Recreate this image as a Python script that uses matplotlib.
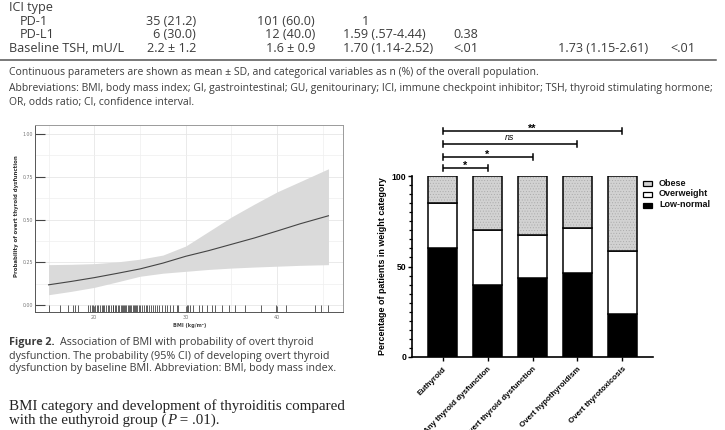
import matplotlib
matplotlib.use("Agg")
import matplotlib.pyplot as plt
import numpy as np
from matplotlib.patches import Rectangle
from matplotlib.lines import Line2D

W, H = 725, 430
fig = plt.figure(figsize=(7.25, 4.30), dpi=100)
fig.patch.set_facecolor("white")
plt.rcParams["hatch.linewidth"] = 0.35

# ---------------- data ----------------
table_labels = ["ICI type", "PD-1", "PD-L1", "Baseline TSH, mU/L"]
table_col1 = ["", "35 (21.2)", "6 (30.0)", "2.2 \u00b1 1.2"]
table_col2 = ["", "101 (60.0)", "12 (40.0)", "1.6 \u00b1 0.9"]
table_col3 = ["", "1", "1.59 (.57-4.44)", "1.70 (1.14-2.52)"]
table_col4 = ["", "", "0.38", "<.01"]
table_col5 = ["", "", "", "1.73 (1.15-2.61)"]
table_col6 = ["", "", "", "<.01"]

note_lines = [
    "Continuous parameters are shown as mean \u00b1 SD, and categorical variables as n (%) of the overall population.",
    "Abbreviations: BMI, body mass index; GI, gastrointestinal; GU, genitourinary; ICI, immune checkpoint inhibitor; TSH, thyroid stimulating hormone;",
    "OR, odds ratio; CI, confidence interval.",
]

# Figure 2: probability curve vs BMI
curve_bmi = [15, 17.5, 20, 22.5, 25, 27.5, 30, 32.5, 35, 37.5, 40, 42.5, 45.6]
curve_prob = [0.118, 0.138, 0.160, 0.185, 0.211, 0.245, 0.285, 0.318, 0.355, 0.392, 0.433, 0.475, 0.522]
ci_upper = [0.236, 0.238, 0.242, 0.252, 0.268, 0.292, 0.345, 0.430, 0.515, 0.590, 0.662, 0.722, 0.797]
ci_lower = [0.060, 0.080, 0.103, 0.135, 0.168, 0.186, 0.197, 0.208, 0.216, 0.222, 0.227, 0.232, 0.236]
rug_bmi = [15.1, 16.3, 17.1, 17.7, 17.9, 18.2, 19.3, 19.5, 19.7, 19.9, 20.1, 20.3, 20.4,
           20.6, 20.8, 21.0, 21.1, 21.3, 21.5, 21.6, 21.8, 22.0, 22.1, 22.3, 22.4, 22.6,
           22.7, 22.9, 23.0, 23.1, 23.3, 23.4, 23.5, 23.7, 23.8, 23.9, 24.0, 24.2, 24.3,
           24.4, 24.6, 24.7, 24.9, 25.0, 25.2, 25.4, 25.6, 25.8, 26.0, 26.2, 26.4, 26.6,
           26.9, 27.1, 27.4, 27.7, 28.0, 28.3, 28.6, 29.0, 29.2, 30.1, 30.3, 30.5, 30.8,
           31.4, 31.8, 32.3, 32.9, 33.2, 34.0, 34.7, 35.4, 36.5, 38.2, 39.9, 41.0, 44.1,
           44.8, 45.6]
bmi_ticks = [20, 30, 40]
prob_ticks = [0.00, 0.25, 0.50, 0.75, 1.00]
prob_tick_labels = ["0.00", "0.25", "0.50", "0.75", "1.00"]

caption_bold = "Figure 2."
caption_lines = [
    "Association of BMI with probability of overt thyroid",
    "dysfunction. The probability (95% CI) of developing overt thyroid",
    "dysfunction by baseline BMI. Abbreviation: BMI, body mass index.",
]

# weight-category stacked bars
groups = ["Euthyroid", "Any thyroid dysfunction", "Overt thyroid dysfunction",
          "Overt hypothyroidism", "Overt thyrotoxicosis"]
low_normal = [60.0, 40.0, 43.5, 46.5, 23.5]
overweight = [25.0, 30.0, 24.0, 24.5, 35.0]
obese = [15.0, 30.0, 32.5, 29.0, 41.5]
legend_labels = ["Obese", "Overweight", "Low-normal"]
sig_targets = [1, 2, 3, 4]
sig_heights = [104.5, 110.5, 117.5, 125.0]
sig_labels = ["*", "*", "ns", "**"]

# ---------------- helpers ----------------
renderer = fig.canvas.get_renderer()


def rect(l, t, r, b):
    return [l / W, 1 - b / H, (r - l) / W, (b - t) / H]


def put(x, y, s, width=None, size=8.0, **kw):
    kw.setdefault("va", "center")
    t = fig.text(x / W, 1 - y / H, s, fontsize=size, **kw)
    if width is not None:
        bb = t.get_window_extent(renderer)
        t.set_fontsize(size * width / bb.width)
    return t


def right_px(t):
    return t.get_window_extent(renderer).x1


SANS = "Open Sans"
TXT = "#3c3c3c"

# notes
t = put(9, 88, note_lines[1], width=706, family=SANS, color=TXT)
nsize = t.get_fontsize()
put(9, 73, note_lines[0], size=nsize, family=SANS, color=TXT)
put(9, 102.5, note_lines[2], size=nsize, family=SANS, color=TXT)

# ---------------- table ----------------
tsize = nsize * 1.22
row_y = [8, 21.5, 35, 48.5]
for i, lab in enumerate(table_labels):
    put(9 if i in (0, 3) else 20, row_y[i], lab, size=tsize, family=SANS, color=TXT)
for i in range(4):
    if table_col1[i]:
        put(196, row_y[i], table_col1[i], size=tsize, family=SANS, color=TXT, ha="right")
    if table_col2[i]:
        put(315, row_y[i], table_col2[i], size=tsize, family=SANS, color=TXT, ha="right")
    if table_col3[i]:
        if table_col3[i] == "1":
            put(365, row_y[i], table_col3[i], size=tsize, family=SANS, color=TXT, ha="center")
        else:
            put(343, row_y[i], table_col3[i], size=tsize, family=SANS, color=TXT)
    if table_col4[i]:
        put(453, row_y[i], table_col4[i], size=tsize, family=SANS, color=TXT)
    if table_col5[i]:
        put(558, row_y[i], table_col5[i], size=tsize, family=SANS, color=TXT)
    if table_col6[i]:
        put(670, row_y[i], table_col6[i], size=tsize, family=SANS, color=TXT)
fig.add_artist(Line2D([0, 716 / W], [1 - 59.5 / H, 1 - 59.5 / H], color="#555555", lw=1.1))

# ---------------- Figure 2 (probability curve) ----------------
ax1 = fig.add_axes(rect(35, 125, 343, 312))
ax1.set_xlim(13.52, 47.19)
ax1.set_ylim(-0.041, 1.053)
ax1.fill_between(curve_bmi, ci_lower, ci_upper, color="#dadada", lw=0, zorder=2)
ax1.plot(curve_bmi, curve_prob, color="#444444", lw=0.8, zorder=3)
ax1.vlines(rug_bmi, 0, 0.035, transform=ax1.get_xaxis_transform(), color="#333333", lw=0.55, zorder=4)
ax1.set_xticks(bmi_ticks)
ax1.set_xticklabels([str(v) for v in bmi_ticks])
ax1.set_xticks([15, 25, 35, 45], minor=True)
ax1.set_yticks(prob_ticks)
ax1.set_yticklabels(prob_tick_labels)
ax1.set_yticks([0.125, 0.375, 0.625, 0.875], minor=True)
ax1.grid(True, which="major", color="#e6e6e6", lw=0.6, zorder=0)
ax1.grid(True, which="minor", color="#efefef", lw=0.5, zorder=0)
ax1.set_axisbelow(True)
ax1.tick_params(axis="y", which="major", direction="in", length=7, width=0.8, color="#444444",
                labelsize=3.4, labelcolor="#777777", pad=1.5)
ax1.tick_params(axis="x", which="major", direction="in", length=4, width=0.6, color="#555555",
                labelsize=3.6, labelcolor="#777777", pad=2)
ax1.tick_params(which="minor", length=0)
for s in ax1.spines.values():
    s.set_color("#9a9a9a")
    s.set_linewidth(0.7)
ax1.spines["left"].set_color("#555555")
ax1.spines["bottom"].set_color("#555555")
put(17, 216, "Probability of overt thyroid dysfunction", size=3.9, family="DejaVu Sans",
    weight="bold", color="#333333", rotation=90, ha="center")
put(190, 325, "BMI (kg/m\u00b2)", size=3.6, family="DejaVu Sans", weight="bold", color="#444444", ha="center")

# caption
tb = put(9, 343, caption_bold, size=8, family=SANS, weight="bold", color=TXT)
t2 = put(9, 356, caption_lines[1], width=324, family=SANS, color=TXT)
csize = t2.get_fontsize()
tb.set_fontsize(csize)
xb = right_px(tb)
put(xb + 5, 343, caption_lines[0], size=csize, family=SANS, color=TXT)
put(9, 369, caption_lines[2], size=csize, family=SANS, color=TXT)

# body text (serif)
SERIF = "Liberation Serif"
tb1 = put(9, 406, "BMI category and development of thyroiditis compared", width=334,
          family=SERIF, color="#222222")
bsize = tb1.get_fontsize()
p1 = put(9, 420, "with the euthyroid group (", size=bsize, family=SERIF, color="#222222")
p2 = put(right_px(p1) + 0.5, 420, "P", size=bsize, family=SERIF, style="italic", color="#222222")
put(right_px(p2) + 0.5, 420, " = .01).", size=bsize, family=SERIF, color="#222222")

# ---------------- stacked bar chart ----------------
ax2 = fig.add_axes(rect(412, 176, 653, 357))
x = np.arange(len(groups))
bw = 0.645
LW = 1.1
bottom2 = np.add(low_normal, overweight)
ax2.bar(x, low_normal, bw, color="black", edgecolor="black", lw=LW, zorder=3)
ax2.bar(x, overweight, bw, bottom=low_normal, color="white", edgecolor="black", lw=LW, zorder=3)
ax2.bar(x, obese, bw, bottom=bottom2, color="#d2d2d2", edgecolor="#a8a8a8", hatch="......", lw=0, zorder=3)
ax2.bar(x, obese, bw, bottom=bottom2, fill=False, edgecolor="black", lw=LW, zorder=4)
ax2.set_xlim(-0.68, 4.68)
ax2.set_ylim(0, 100)
ax2.spines["top"].set_visible(False)
ax2.spines["right"].set_visible(False)
ax2.spines["left"].set_linewidth(1.2)
ax2.spines["bottom"].set_linewidth(1.2)
ax2.set_yticks([0, 50, 100])
ax2.set_yticks(np.arange(0, 101, 5), minor=True)
ax2.tick_params(axis="y", which="major", direction="out", length=3.2, width=1.0, labelsize=6.2,
                pad=1)
ax2.tick_params(axis="y", which="minor", direction="out", length=2.0, width=0.9)
ax2.set_xticks(x)
ax2.set_xticklabels(groups, rotation=45, ha="right", va="top", rotation_mode="anchor",
                    fontsize=5.7, fontweight="bold", family="Liberation Sans")
ax2.tick_params(axis="x", direction="out", length=3.2, width=1.0, pad=3)
for lab in ax2.get_yticklabels():
    lab.set_family("Liberation Sans")
    lab.set_fontweight("bold")
ax2.set_ylabel("Percentage of patients in weight category", fontsize=6.4, fontweight="bold",
               family="Liberation Sans", labelpad=3)

cap = 1.7
for tgt, h, lab in zip(sig_targets, sig_heights, sig_labels):
    ax2.plot([0, tgt], [h, h], color="black", lw=LW, clip_on=False, solid_capstyle="butt")
    for xe in (0, tgt):
        ax2.plot([xe, xe], [h - cap, h + cap], color="black", lw=LW, clip_on=False)
    if lab == "ns":
        ax2.text(tgt / 2, h + 1.2, lab, ha="center", va="bottom", fontsize=6.4, style="italic",
                 family="Liberation Sans", clip_on=False)
    else:
        ax2.text(tgt / 2, h - 1.5, lab, ha="center", va="bottom", fontsize=7.8, fontweight="bold",
                 family="Liberation Sans", clip_on=False)

# legend
leg_face = ["#d2d2d2", "white", "black"]
leg_y = [183, 194, 205]
for fc, yy, lab in zip(leg_face, leg_y, legend_labels):
    fig.add_artist(Rectangle((643 / W, 1 - (yy + 2.5) / H), 9 / W, 5 / H, facecolor=fc,
                             edgecolor="black", lw=0.9, transform=fig.transFigure))
    put(659, yy, lab, size=6.5, family="Liberation Sans", weight="bold", color="#111111")

fig.savefig("out.png", dpi=100, facecolor="white")
